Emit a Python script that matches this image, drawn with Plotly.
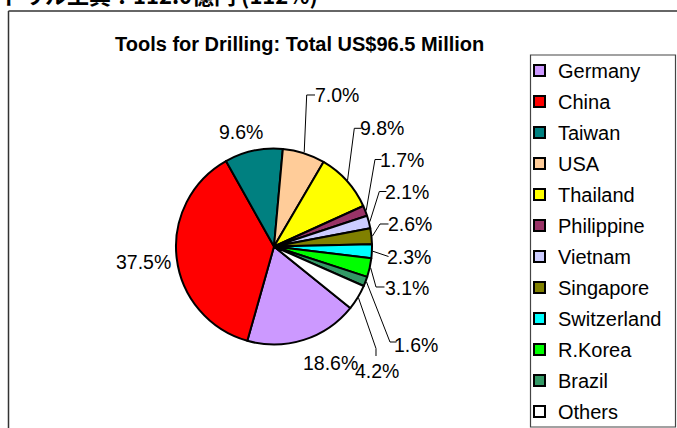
import math
import plotly.graph_objects as go

# ---- data -------------------------------------------------------------
countries = ["Germany", "China", "Taiwan", "USA", "Thailand", "Philippine",
             "Vietnam", "Singapore", "Switzerland", "R.Korea", "Brazil", "Others"]
shares = [18.6, 37.5, 9.6, 7.0, 9.8, 1.7, 2.1, 2.6, 2.3, 3.1, 1.6, 4.2]
colors = ["#CC99FF", "#FF0000", "#008080", "#FFCC99", "#FFFF00", "#993366",
          "#CCCCFF", "#808000", "#00FFFF", "#00FF00", "#339966", "#FFFFFF"]
chart_title = "Tools for Drilling: Total US$96.5 Million"
page_heading = "ドリル工具：112.0億円 (112%)"

# ---- geometry (pixels in a 677 x 428 canvas) --------------------------
W, H = 677, 428
CX, CY, R = 274.0, 246.5, 99.0
LINE_W = 2
ROTATION = 128.9

def px(x):
    return x / W

def py(y):
    return 1 - y / H

# label centres, optional elbow of the leader line, and leader end
label_xy = [(330, 363), (143, 262), (241, 132), (337, 95), (381.5, 128),
            (401.5, 159.5), (406.5, 191.5), (409.5, 224), (408.5, 256.5),
            (406.5, 288), (416.5, 345), (376.5, 371)]
leader_elbow = [None, None, None, (306.7, 95), (354.3, 128.3), (375, 159.5),
                (379.3, 191.5), (380, 224), None, (376, 287), (390, 342),
                (376, 348.5)]
leader_end = [None, None, None, (315, 95), (361.5, 128.3), (381.5, 159.5),
              (386.5, 191.5), (388.5, 224), (388.5, 256.5), (384.5, 287),
              (396.5, 342), (376, 356)]

FONT = "Liberation Sans, Arial, sans-serif"
LABEL_FONT = "Liberation Sans Narrow, Arial Narrow, Liberation Sans, sans-serif"

fig = go.Figure()

r_in = R - LINE_W / 2
fig.add_trace(go.Pie(
    labels=countries,
    values=shares,
    sort=False,
    direction="clockwise",
    rotation=ROTATION,
    marker=dict(colors=colors, line=dict(color="black", width=LINE_W)),
    textinfo="none",
    hoverinfo="label+percent",
    showlegend=False,
    domain=dict(x=[px(CX - r_in), px(CX + r_in)],
                y=[py(CY + r_in), py(CY - r_in)]),
))

shapes = []
annotations = []

# outer chart frame (left and top edges)
shapes.append(dict(type="line", xref="paper", yref="paper",
                   x0=px(8.5), y0=py(11), x1=px(8.5), y1=py(440),
                   line=dict(color="#333333", width=1.5)))
shapes.append(dict(type="line", xref="paper", yref="paper",
                   x0=px(8.5), y0=py(11), x1=px(690), y1=py(11),
                   line=dict(color="#333333", width=1.5)))

# percentage labels and leader lines
total = sum(shares)
cum = 0.0
for i, v in enumerate(shares):
    mid = ROTATION + 360.0 * (cum + v / 2) / total
    cum += v
    lx, ly = label_xy[i]
    annotations.append(dict(
        x=px(lx), y=py(ly), xref="paper", yref="paper",
        text=f"{v:.1f}%", showarrow=False, xanchor="center", yanchor="middle",
        font=dict(family=LABEL_FONT, size=19.5, color="black")))
    if leader_end[i] is None:
        continue
    a = math.radians(mid)
    sx, sy = CX + R * math.sin(a), CY - R * math.cos(a)
    pts = [(sx, sy)]
    if leader_elbow[i] is not None:
        pts.append(leader_elbow[i])
    pts.append(leader_end[i])
    path = "M " + " L ".join(f"{px(x):.5f},{py(y):.5f}" for x, y in pts)
    shapes.append(dict(type="path", xref="paper", yref="paper", path=path,
                       line=dict(color="black", width=1)))

# legend box with swatches
shapes.append(dict(type="rect", xref="paper", yref="paper",
                   x0=px(530.5), y0=py(55), x1=px(675.5), y1=py(427),
                   line=dict(color="#444444", width=1.2), fillcolor="white",
                   layer="below"))
for i, name in enumerate(countries):
    yc = 70.5 + 31 * i
    shapes.append(dict(type="rect", xref="paper", yref="paper",
                       x0=px(534), y0=py(yc - 5.5), x1=px(545), y1=py(yc + 5.5),
                       line=dict(color="black", width=2), fillcolor=colors[i]))
    annotations.append(dict(
        x=px(556), y=py(yc), xref="paper", yref="paper", text=name,
        showarrow=False, xanchor="left", yanchor="middle",
        font=dict(family=FONT, size=20, color="black")))

# chart title
annotations.append(dict(
    x=px(299), y=py(44), xref="paper", yref="paper", text=f"<b>{chart_title}</b>",
    showarrow=False, xanchor="center", yanchor="middle",
    font=dict(family=FONT, size=20, color="black")))

# page heading above the chart frame
annotations.append(dict(
    x=px(-1), y=py(-6.5), xref="paper", yref="paper", text=f"<b>{page_heading}</b>",
    showarrow=False, xanchor="left", yanchor="middle",
    font=dict(family="Noto Sans CJK JP, sans-serif", size=22, color="black")))

fig.update_layout(
    width=W, height=H,
    margin=dict(l=0, r=0, t=0, b=0),
    paper_bgcolor="white",
    plot_bgcolor="white",
    shapes=shapes,
    annotations=annotations,
)

fig.write_html("out.html")
